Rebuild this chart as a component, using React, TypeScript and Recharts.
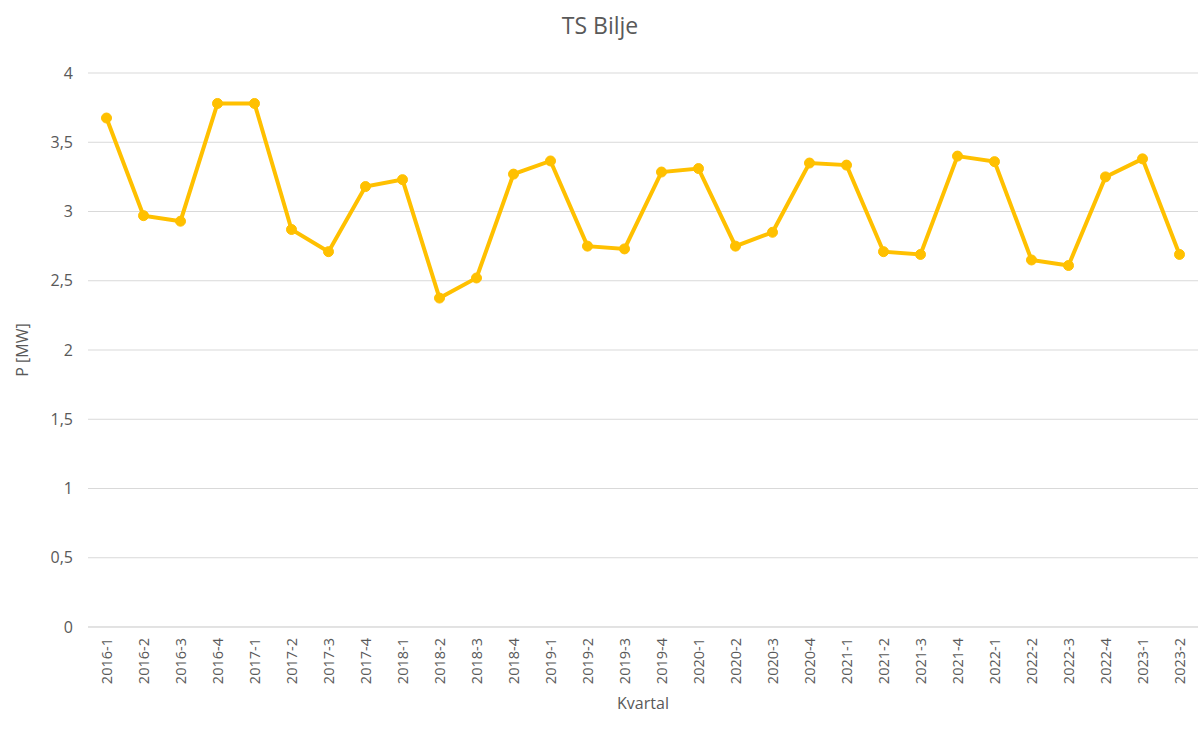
import React from 'react';
import { LineChart, Line, XAxis, YAxis, CartesianGrid } from 'recharts';

const quarters = [
  '2016-1', '2016-2', '2016-3', '2016-4',
  '2017-1', '2017-2', '2017-3', '2017-4',
  '2018-1', '2018-2', '2018-3', '2018-4',
  '2019-1', '2019-2', '2019-3', '2019-4',
  '2020-1', '2020-2', '2020-3', '2020-4',
  '2021-1', '2021-2', '2021-3', '2021-4',
  '2022-1', '2022-2', '2022-3', '2022-4',
  '2023-1', '2023-2',
];

const power = [
  3.675, 2.97, 2.93, 3.78,
  3.78, 2.87, 2.71, 3.18,
  3.23, 2.375, 2.52, 3.27,
  3.365, 2.75, 2.73, 3.285,
  3.31, 2.75, 2.85, 3.35,
  3.335, 2.71, 2.69, 3.40,
  3.36, 2.65, 2.61, 3.25,
  3.38, 2.69,
];

const yTicks = [0, 0.5, 1, 1.5, 2, 2.5, 3, 3.5, 4];

const data = quarters.map((q, i) => ({ q, p: power[i] }));

const FONT = '"Open Sans", "Segoe UI", sans-serif';
const TEXT = '#595959';

const QuarterTick = (props: any) => {
  const { x, y, payload } = props;
  return (
    <text
      x={x}
      y={y + 9}
      transform={`rotate(-90 ${x} ${y + 9})`}
      textAnchor="end"
      dy="0.35em"
      fill={TEXT}
      fontSize={14.5}
      fontFamily={FONT}
    >
      {payload.value}
    </text>
  );
};

const App: React.FC = () => (
  <div style={{ position: 'absolute', left: 0, top: 0, width: 1200, height: 737, background: '#fff' }}>
    <div
      style={{
        position: 'absolute',
        top: 9,
        width: 1200,
        textAlign: 'center',
        fontFamily: FONT,
        fontSize: 23,
        color: TEXT,
      }}
    >
      TS Bilje
    </div>
    <LineChart width={1200} height={737} data={data} margin={{ top: 73, right: 2, left: 0, bottom: 0 }}>
      <CartesianGrid vertical={false} stroke="#d9d9d9" />
      <XAxis
        dataKey="q"
        interval={0}
        height={110}
        tickSize={0}
        padding={{ left: 18.5, right: 18.5 }}
        tick={<QuarterTick />}
        axisLine={{ stroke: '#d9d9d9' }}
        tickLine={false}
        label={{
          value: 'Kvartal',
          position: 'insideBottom',
          offset: 28,
          fill: TEXT,
          fontSize: 16,
          fontFamily: FONT,
        }}
      />
      <YAxis
        width={88}
        domain={[0, 4]}
        ticks={yTicks}
        tickSize={0}
        tickMargin={15}
        axisLine={false}
        tickLine={false}
        tickFormatter={(v: number) => String(v).replace('.', ',')}
        tick={{ fill: TEXT, fontSize: 16, fontFamily: FONT }}
        label={({ viewBox }: any) => {
          const cy = viewBox.y + viewBox.height / 2;
          return (
            <text
              x={22}
              y={cy}
              transform={`rotate(-90 22 ${cy})`}
              textAnchor="middle"
              dy="0.35em"
              fill={TEXT}
              fontSize={16}
              fontFamily={FONT}
            >
              P [MW]
            </text>
          );
        }}
      />
      <Line
        type="linear"
        dataKey="p"
        stroke="#FFC000"
        strokeWidth={4}
        dot={{ r: 5, fill: '#FFC000', stroke: '#FFC000', strokeWidth: 1 }}
        isAnimationActive={false}
      />
    </LineChart>
  </div>
);

export default App;
